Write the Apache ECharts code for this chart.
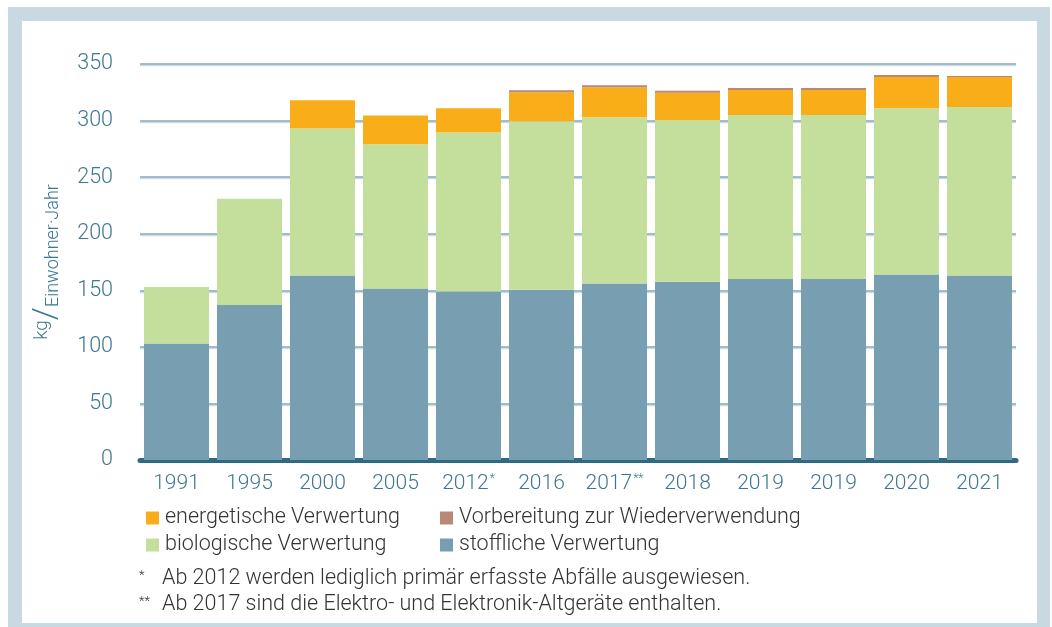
<!DOCTYPE html>
<html>
<head>
<meta charset="utf-8">
<script src="https://cdn.jsdelivr.net/npm/echarts@6/dist/echarts.min.js"></script>
<style>
  html, body { margin: 0; padding: 0; background: #fff; overflow: hidden; }
  #frame {
    position: absolute; left: 8px; top: 7px; width: 1042px; height: 630px;
    box-sizing: border-box; border: 14px solid #c9d9e1; border-right-width: 13px;
  }
  #chart { position: absolute; left: 0; top: 0; width: 1052px; height: 627px; }
</style>
</head>
<body>
<div id="frame"></div>
<div id="chart"></div>
<script>
// Years (asterisks mark the footnotes below the chart)
const categories = ['1991', '1995', '2000', '2005', '2012*', '2016', '2017**', '2018', '2019', '2019', '2020', '2021'];

// kg per inhabitant and year, by recovery type
const stoffliche = [103, 137, 163, 151.5, 149, 150.5, 156, 157.5, 160, 160, 164, 163];
const biologische = [50, 94, 130, 127.5, 140.5, 149, 147, 143, 145, 145, 147, 149];
const energetische = [null, null, 25, 25.5, 21.5, 25.5, 26.5, 24, 22, 22, 27.5, 26.5];
const vorbereitung = [null, null, null, null, null, 1.8, 1.8, 1.8, 1.8, 1.8, 1.8, 1];

const yTicks = { min: 0, max: 350, step: 50 };

const seriesNames = {
  stoff: 'stoffliche Verwertung',
  bio: 'biologische Verwertung',
  energ: 'energetische Verwertung',
  reuse: 'Vorbereitung zur Wiederverwendung'
};

const footnotes = [
  { mark: '*', text: 'Ab 2012 werden lediglich primär erfasste Abfälle ausgewiesen.' },
  { mark: '**', text: 'Ab 2017 sind die Elektro- und Elektronik-Altgeräte enthalten.' }
];

const FONT = 'Roboto, "Liberation Sans", sans-serif';
const TEAL = '#3d7791';
const TEXT = '#333333';

const chart = echarts.init(document.getElementById('chart'), null, { renderer: 'canvas' });

function bar(name, data, color) {
  return {
    name, type: 'bar', stack: 'total', data, barWidth: 65,
    itemStyle: { color },
    emphasis: { disabled: true },
    animation: false
  };
}

function legendItem(name, left, top) {
  return {
    data: [name], left, top, padding: 0, icon: 'rect',
    itemWidth: 13, itemHeight: 13, selectedMode: false,
    textStyle: { fontFamily: FONT, fontWeight: 300, fontSize: 21.5, color: TEXT, padding: [0, 0, 0, 1] }
  };
}

const graphics = [];
footnotes.forEach((f, i) => {
  const top = 568 + i * 26;
  graphics.push({
    type: 'text', left: 139, top: top + 1,
    style: { text: f.mark, font: '300 13px ' + FONT, fill: TEXT }
  });
  graphics.push({
    type: 'text', left: 162, top: top,
    style: { text: f.text, font: '300 21.5px ' + FONT, fill: TEXT }
  });
});

chart.setOption({
  animation: false,
  grid: { left: 140, right: 36, top: 64, bottom: 167, containLabel: false },
  legend: [
    legendItem(seriesNames.energ, 146, 507),
    legendItem(seriesNames.reuse, 440, 507),
    legendItem(seriesNames.bio, 146, 534),
    legendItem(seriesNames.stoff, 440, 534)
  ],
  xAxis: {
    type: 'category',
    data: categories,
    axisTick: { show: false },
    axisLine: { show: true, lineStyle: { color: '#2f6a82', width: 5 } },
    axisLabel: {
      margin: 13,
      interval: 0,
      formatter: (v) => {
        const m = v.match(/^(\d+)(\**)$/);
        return m[2] ? '{y|' + m[1] + '}{s|' + m[2] + '}' : '{y|' + m[1] + '}';
      },
      rich: {
        y: { fontFamily: FONT, fontWeight: 300, fontSize: 21, color: TEAL },
        s: { fontFamily: FONT, fontWeight: 300, fontSize: 12, color: TEAL, padding: [0, 0, 9, 1] }
      }
    }
  },
  yAxis: {
    type: 'value',
    min: yTicks.min, max: yTicks.max, interval: yTicks.step,
    axisLine: { show: false },
    axisTick: { show: false },
    axisLabel: { margin: 27, fontFamily: FONT, fontWeight: 300, fontSize: 21.5, color: TEAL },
    splitLine: {
      lineStyle: { color: '#86a7b8', width: 1.5, shadowColor: '#cddbe2', shadowOffsetY: 1.5, shadowBlur: 0 }
    },
    name: '{k|kg}{s|/}{e|Einwohner·Jahr}',
    nameLocation: 'middle',
    nameRotate: 90,
    nameGap: 76,
    nameTextStyle: {
      rich: {
        k: { fontFamily: FONT, fontWeight: 300, fontSize: 19, color: TEAL, padding: [0, 0, 11, 0] },
        s: { fontFamily: FONT, fontWeight: 300, fontSize: 33, color: TEAL },
        e: { fontFamily: FONT, fontWeight: 300, fontSize: 18, color: TEAL, padding: [11, 0, 0, 0] }
      }
    }
  },
  series: [
    bar(seriesNames.stoff, stoffliche, '#779eb1'),
    bar(seriesNames.bio, biologische, '#c4df9b'),
    bar(seriesNames.energ, energetische, '#f9ae19'),
    bar(seriesNames.reuse, vorbereitung, '#b98877')
  ],
  graphic: graphics
});
</script>
</body>
</html>
